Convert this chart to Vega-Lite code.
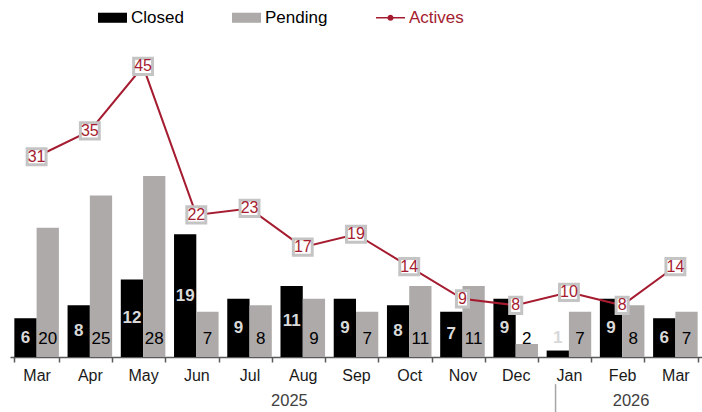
{
  "$schema": "https://vega.github.io/schema/vega-lite/v6.json",
  "width": 692,
  "height": 323,
  "autosize": {"type": "none"},
  "padding": {"left": 10, "top": 34, "right": 0, "bottom": 55},
  "background": "white",
  "config": {"view": {"stroke": null}, "font": "Liberation Sans"},
  "datasets": {
    "months": [
      {"month": "Mar 2025", "Closed": 6, "Pending": 20, "Actives": 31},
      {"month": "Apr 2025", "Closed": 8, "Pending": 25, "Actives": 35},
      {"month": "May 2025", "Closed": 12, "Pending": 28, "Actives": 45},
      {"month": "Jun 2025", "Closed": 19, "Pending": 7, "Actives": 22},
      {"month": "Jul 2025", "Closed": 9, "Pending": 8, "Actives": 23},
      {"month": "Aug 2025", "Closed": 11, "Pending": 9, "Actives": 17},
      {"month": "Sep 2025", "Closed": 9, "Pending": 7, "Actives": 19},
      {"month": "Oct 2025", "Closed": 8, "Pending": 11, "Actives": 14},
      {"month": "Nov 2025", "Closed": 7, "Pending": 11, "Actives": 9},
      {"month": "Dec 2025", "Closed": 9, "Pending": 2, "Actives": 8},
      {"month": "Jan 2026", "Closed": 1, "Pending": 7, "Actives": 10},
      {"month": "Feb 2026", "Closed": 9, "Pending": 8, "Actives": 8},
      {"month": "Mar 2026", "Closed": 6, "Pending": 7, "Actives": 14}
    ],
    "years": [
      {"year": "2025", "at": "Aug 2025"},
      {"year": "2026", "at": "Feb 2026"}
    ]
  },
  "data": {"name": "months"},
  "encoding": {
    "x": {
      "field": "month",
      "type": "nominal",
      "sort": null,
      "scale": {"paddingInner": 0.163, "paddingOuter": 0.0815},
      "axis": {
        "title": null,
        "labelAngle": 0,
        "labelExpr": "split(datum.label, ' ')[0]",
        "labelFont": "Liberation Sans",
        "labelFontSize": 16,
        "labelColor": "#1a1a1a",
        "labelPadding": 5,
        "tickBand": "extent",
        "tickSize": 5,
        "tickColor": "#595959",
        "tickWidth": 1.5,
        "domainColor": "#595959",
        "domainWidth": 1.5,
        "grid": false
      }
    }
  },
  "layer": [
    {
      "transform": [{"fold": ["Closed", "Pending"], "as": ["series", "value"]}],
      "mark": {"type": "bar"},
      "encoding": {
        "xOffset": {"field": "series", "sort": ["Closed", "Pending"], "scale": {"paddingInner": 0, "paddingOuter": 0}},
        "y": {"field": "value", "type": "quantitative", "scale": {"domain": [0, 50], "nice": false}, "axis": null},
        "color": {
          "field": "series",
          "type": "nominal",
          "scale": {"domain": ["Closed", "Pending", "Actives"], "range": ["#000000", "#aeaaaa", "#a51c30"]},
          "legend": {
            "title": null,
            "orient": "none",
            "direction": "horizontal",
            "legendX": 92,
            "legendY": -27,
            "padding": 0,
            "columnPadding": 47,
            "symbolSize": 374,
            "labelOffset": 8,
            "labelFont": "Liberation Sans",
            "labelFontSize": 17,
            "encode": {"labels": {"update": {"fill": {"signal": "datum.value === 'Actives' ? '#a51c30' : '#000000'"}}}}
          }
        }
      }
    },
    {
      "transform": [{"calculate": "max(datum.Closed / 2, 3)", "as": "labelPos"}],
      "mark": {"type": "text", "font": "Liberation Sans", "fontSize": 17, "fontWeight": "bold", "color": "#d9d9d9", "baseline": "middle"},
      "encoding": {
        "xOffset": {"datum": "Closed"},
        "y": {"field": "labelPos", "type": "quantitative"},
        "text": {"field": "Closed"}
      }
    },
    {
      "mark": {"type": "text", "font": "Liberation Sans", "fontSize": 17, "color": "#000000", "baseline": "alphabetic", "dy": -13},
      "encoding": {
        "xOffset": {"datum": "Pending"},
        "y": {"datum": 0, "type": "quantitative"},
        "text": {"field": "Pending"}
      }
    },
    {
      "mark": {"type": "line", "color": "#a51c30", "strokeWidth": 2},
      "encoding": {
        "y": {"field": "Actives", "type": "quantitative"}
      }
    },
    {
      "transform": [{"fold": ["Actives"], "as": ["series", "value"]}],
      "mark": {"type": "point", "filled": true, "size": 1, "opacity": 1},
      "encoding": {
        "y": {"field": "value", "type": "quantitative"},
        "color": {"field": "series", "type": "nominal"},
        "shape": {
          "field": "series",
          "type": "nominal",
          "scale": {
            "domain": ["Closed", "Pending", "Actives"],
            "range": [
              "M-1.5,-0.52H1.5V0.52H-1.5Z",
              "M-1.5,-0.52H1.5V0.52H-1.5Z",
              "M-1.5,-0.08H1.5V0.08H-1.5Z M0.32,0 A0.32,0.32 0 1,1 -0.32,0 A0.32,0.32 0 1,1 0.32,0Z"
            ]
          }
        }
      }
    },
    {
      "mark": {"type": "point", "filled": true, "fill": "#ffffff", "stroke": "#c4c4c4", "strokeWidth": 3, "size": 324, "opacity": 1},
      "encoding": {
        "y": {"field": "Actives", "type": "quantitative"},
        "shape": {
          "condition": {"test": "datum.Actives >= 10", "value": "M-1.05,-0.9H1.05V0.9H-1.05Z"},
          "value": "M-0.67,-0.9H0.67V0.9H-0.67Z"
        }
      }
    },
    {
      "mark": {"type": "text", "font": "Liberation Sans", "fontSize": 16, "color": "#a51c30", "baseline": "middle"},
      "encoding": {
        "y": {"field": "Actives", "type": "quantitative"},
        "text": {"field": "Actives"}
      }
    },
    {
      "data": {"name": "years"},
      "transform": [{"filter": "datum.year === '2025'"}],
      "mark": {"type": "text", "fontSize": 16.5, "color": "#404040", "baseline": "middle", "dy": 44},
      "encoding": {
        "x": {"field": "at", "bandPosition": 0.2},
        "y": {"datum": 0, "type": "quantitative"},
        "text": {"field": "year"}
      }
    },
    {
      "data": {"name": "years"},
      "transform": [{"filter": "datum.year === '2026'"}],
      "mark": {"type": "text", "fontSize": 16.5, "color": "#404040", "baseline": "middle", "dy": 44},
      "encoding": {
        "x": {"field": "at", "bandPosition": 0.7},
        "y": {"datum": 0, "type": "quantitative"},
        "text": {"field": "year"}
      }
    },
    {
      "data": {"values": [{"at": "Jan 2026", "top": -4.2, "bottom": -8.8}]},
      "mark": {"type": "rule", "color": "#a6a6a6", "strokeWidth": 1.5},
      "encoding": {
        "x": {"field": "at", "bandPosition": 0.2},
        "y": {"field": "top", "type": "quantitative"},
        "y2": {"field": "bottom"}
      }
    }
  ]
}
